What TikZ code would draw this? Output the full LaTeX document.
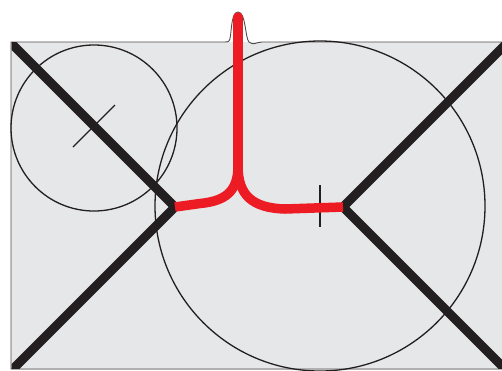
\documentclass[tikz,border=0pt]{standalone}
\usepackage{tikz}
\usetikzlibrary{calc}
\definecolor{PlateGray}{HTML}{E6E7E8}
\definecolor{WireRed}{HTML}{ED1C24}
\definecolor{BarBlack}{HTML}{231F20}
\begin{document}
\begin{tikzpicture}[x=1bp,y=-1bp,
    rim/.style={BarBlack!80,line width=0.9bp},
    thinline/.style={BarBlack,line width=1.3bp},
    bar/.style={BarBlack,line width=9bp},
    wire/.style={WireRed,line width=9.5bp,line join=round}]
  \useasboundingbox (0,0) rectangle (502,370);
  \coordinate (hubL) at (175,207);
  \coordinate (hubR) at (343,207);
  \coordinate (tee) at (238,166);
  \coordinate (tip) at (238,17);
  \coordinate (smallC) at (94,128);
  \coordinate (bigC) at (320,206);
  \fill[PlateGray] (11,42) rectangle (503,370);
  \draw[rim] (503,42) -- (262,42)
    .. controls (256,42) and (254,46) .. (249,42)
    .. controls (245,38) and (246,12) .. (238,12)
    .. controls (230,12) and (232,38) .. (229,41)
    .. controls (228,42) and (227,42) .. (224,42)
    -- (11,42) -- (11,369) -- (503,369);
  \begin{scope}
    \clip (11.5,42.5) rectangle (503,368.5);
    \draw[bar] (hubL) -- ++(-200,-200);
    \draw[bar] (hubL) -- ++(-200,200);
    \draw[bar] (hubR) -- ++(200,-200);
    \draw[bar] (hubR) -- ++(200,200);
  \end{scope}
  \draw[thinline] (smallC) circle[radius=83];
  \draw[thinline] (bigC) circle[radius=165];
  \draw[thinline] ($(hubL)+(-81,-81)+(-21,21)$) -- ++(42,-42);
  \draw[thinline] ($(bigC)+(0,-21)$) -- ++(0,42);
  \draw[wire,line cap=round] (tip) -- (tee);
  \draw[wire] (hubL) -- (200,203.5)
    .. controls (226,201) and (238,191) .. (tee);
  \draw[wire] (tee) .. controls (238,195) and (252,208) .. (285,209)
    -- (hubR);
\end{tikzpicture}
\end{document}
